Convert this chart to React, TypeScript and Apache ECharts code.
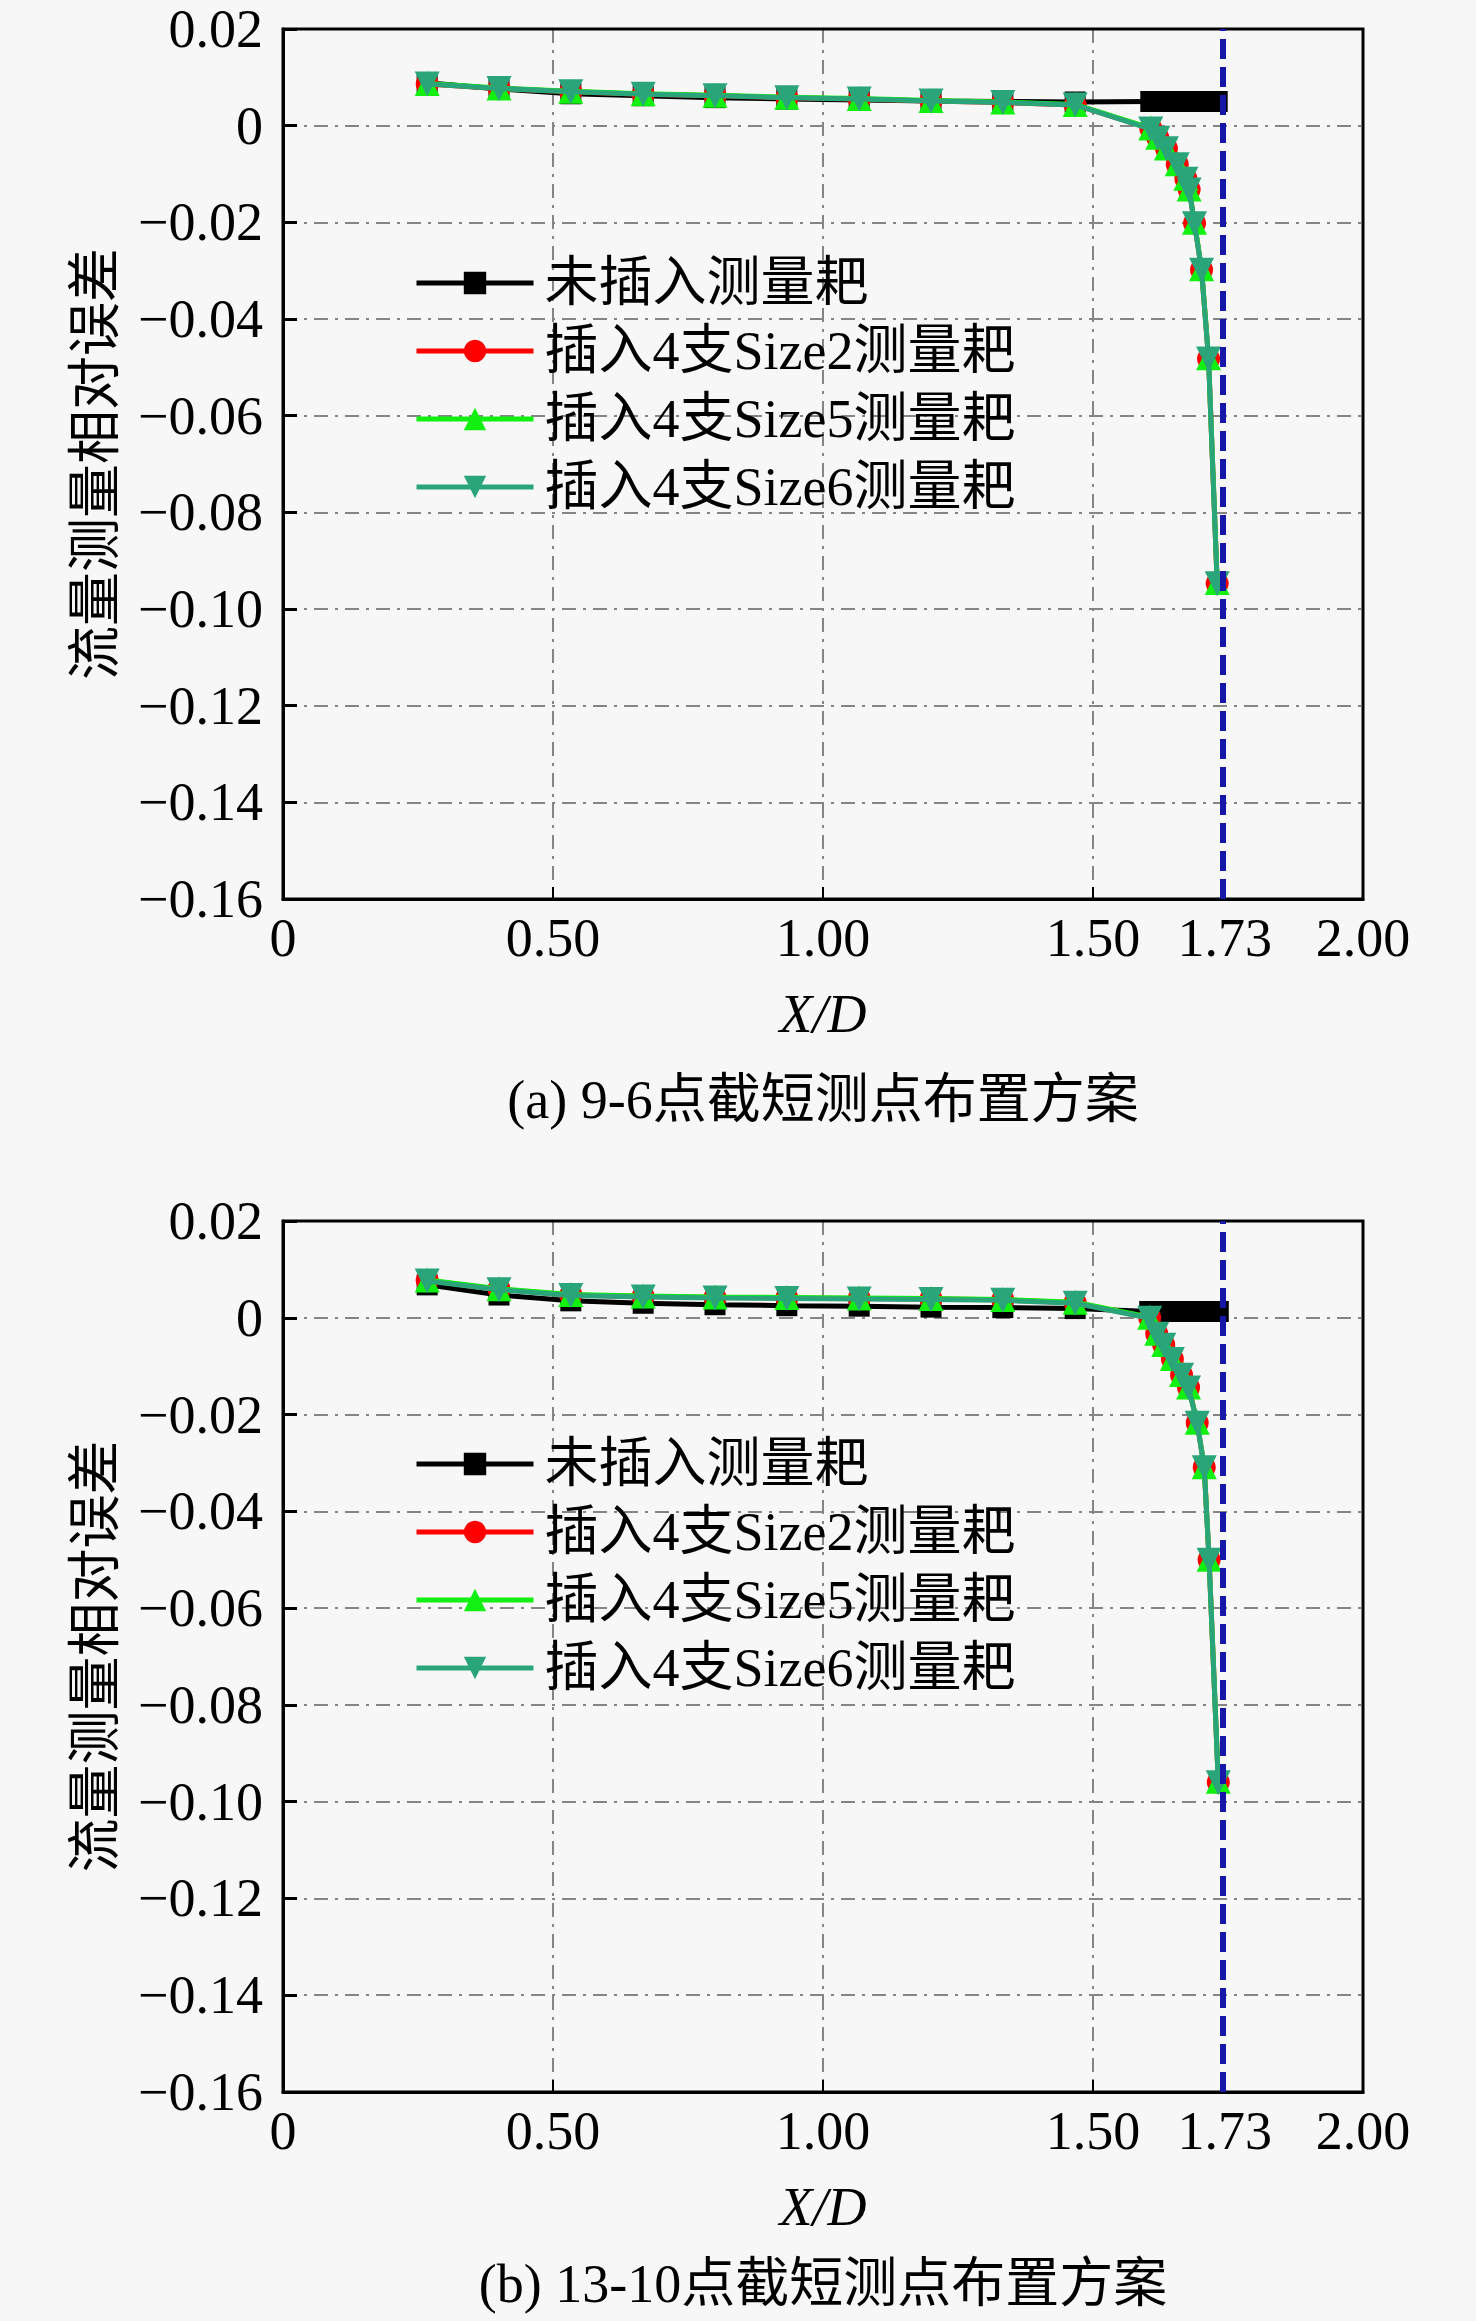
import React, { useEffect, useRef } from "react";
import * as echarts from "echarts";

const FONT = "'Liberation Serif', 'Noto Sans CJK SC', serif";

// ---- series names ----
const NAMES = ["未插入测量耙", "插入4支Size2测量耙", "插入4支Size5测量耙", "插入4支Size6测量耙"];
const COLORS = ["#000000", "#ff0000", "#11f011", "#2aa57a"];
const SYMBOLS = ["rect", "circle", "triangle", "triangle"];
const SYMBOL_ROTATE = [0, 0, 0, 180];
const SYMBOL_SIZES = [21, 23, 25, 25];

// ---- x positions (X/D) ----
const X_MAIN = [0.267, 0.4, 0.533, 0.667, 0.8, 0.933, 1.067, 1.2, 1.333, 1.467];
const X_TAIL_A = [1.607, 1.62, 1.636, 1.656, 1.672, 1.678, 1.688, 1.701, 1.714, 1.73];
const X_TAIL_B = [1.605, 1.618, 1.631, 1.647, 1.664, 1.677, 1.693, 1.706, 1.715, 1.732];

// ---- (a) 9-6 ----
const A_NONE_MAIN = [0.0089, 0.0076, 0.0066, 0.0062, 0.0058, 0.0055, 0.0053, 0.0051, 0.005, 0.0049];
const A_NONE_TAIL = [0.005, 0.005, 0.005, 0.005, 0.005, 0.005, 0.005, 0.005, 0.005, 0.005];
const A_S2_MAIN = [0.0086, 0.0077, 0.007, 0.0065, 0.0062, 0.0058, 0.0055, 0.0051, 0.0048, 0.0043];
const A_S2_TAIL = [-0.0006, -0.0025, -0.0047, -0.008, -0.011, -0.0132, -0.0202, -0.0298, -0.0482, -0.0947];
const A_S5_MAIN = [0.0087, 0.0078, 0.0071, 0.0066, 0.0063, 0.0059, 0.0056, 0.0052, 0.0049, 0.0044];
const A_S5_TAIL = [-0.0005, -0.0024, -0.0046, -0.0079, -0.0109, -0.0131, -0.02, -0.0296, -0.048, -0.0945];
const A_S6_MAIN = [0.0086, 0.0077, 0.007, 0.0065, 0.0062, 0.0058, 0.0055, 0.0051, 0.0048, 0.0043];
const A_S6_TAIL = [-0.0007, -0.0026, -0.0048, -0.0081, -0.0111, -0.0133, -0.0203, -0.0299, -0.0483, -0.0948];

// ---- (b) 13-10 ----
const B_NONE_MAIN = [0.0068, 0.0047, 0.0035, 0.003, 0.0027, 0.0025, 0.0024, 0.0022, 0.0021, 0.0019];
const B_NONE_TAIL = [0.0013, 0.0013, 0.0013, 0.0013, 0.0013, 0.0013, 0.0013, 0.0013, 0.0013, 0.0013];
const B_S2_MAIN = [0.0077, 0.0059, 0.0047, 0.0044, 0.0042, 0.0041, 0.004, 0.0039, 0.0037, 0.0031];
const B_S2_TAIL = [0, -0.0033, -0.0056, -0.0085, -0.0118, -0.0144, -0.0217, -0.0309, -0.05, -0.096];
const B_S5_MAIN = [0.0078, 0.006, 0.0048, 0.0045, 0.0043, 0.0042, 0.0041, 0.004, 0.0038, 0.0032];
const B_S5_TAIL = [0.0001, -0.0032, -0.0055, -0.0084, -0.0117, -0.0143, -0.0216, -0.0308, -0.0499, -0.0958];
const B_S6_MAIN = [0.0076, 0.0058, 0.0046, 0.0043, 0.0041, 0.004, 0.0039, 0.0038, 0.0036, 0.003];
const B_S6_TAIL = [-0.0001, -0.0034, -0.0057, -0.0086, -0.0119, -0.0145, -0.0218, -0.031, -0.0501, -0.0961];

// ---- axes ----
const X_TICK_VALUES = [0, 0.5, 1, 1.5, 1.744, 2];
const X_TICK_LABELS = ["0", "0.50", "1.00", "1.50", "1.73", "2.00"];
const MARK_X = 1.744;
const CAPTIONS = ["(a) 9-6点截短测点布置方案", "(b) 13-10点截短测点布置方案"];
const Y_TITLE = "流量测量相对误差";
const X_TITLE = "X/D";

const GRIDS = [
  { top: 29, height: 870 },
  { top: 1221, height: 871 },
];
const GRID_LEFT = 283;
const GRID_WIDTH = 1080;

const pairs = (xs: number[], ys: number[]) => xs.map((x, i) => [x, ys[i]]);

const DATA = [
  [
    pairs([...X_MAIN, ...X_TAIL_A], [...A_NONE_MAIN, ...A_NONE_TAIL]),
    pairs([...X_MAIN, ...X_TAIL_A], [...A_S2_MAIN, ...A_S2_TAIL]),
    pairs([...X_MAIN, ...X_TAIL_A], [...A_S5_MAIN, ...A_S5_TAIL]),
    pairs([...X_MAIN, ...X_TAIL_A], [...A_S6_MAIN, ...A_S6_TAIL]),
  ],
  [
    pairs([...X_MAIN, ...X_TAIL_B], [...B_NONE_MAIN, ...B_NONE_TAIL]),
    pairs([...X_MAIN, ...X_TAIL_B], [...B_S2_MAIN, ...B_S2_TAIL]),
    pairs([...X_MAIN, ...X_TAIL_B], [...B_S5_MAIN, ...B_S5_TAIL]),
    pairs([...X_MAIN, ...X_TAIL_B], [...B_S6_MAIN, ...B_S6_TAIL]),
  ],
];

const GRIDLINE = { color: "#858585", width: 2, type: [14, 7, 3, 7] as number[] };

function xLabel(v: number) {
  let best = 0;
  for (let i = 0; i < X_TICK_VALUES.length; i++) {
    if (Math.abs(X_TICK_VALUES[i] - v) < Math.abs(X_TICK_VALUES[best] - v)) best = i;
  }
  return X_TICK_LABELS[best];
}

function yLabel(v: number) {
  if (Math.abs(v) < 1e-9) return "0";
  return (v < 0 ? "\u2212" : "") + Math.abs(v).toFixed(2);
}

function buildOption() {
  const grid = GRIDS.map((g) => ({
    left: GRID_LEFT,
    top: g.top,
    width: GRID_WIDTH,
    height: g.height,
    show: true,
    borderColor: "#000",
    borderWidth: 3,
    backgroundColor: "transparent",
    z: 3,
  }));
  const xAxis = GRIDS.map((_, i) => ({
    type: "value",
    gridIndex: i,
    min: 0,
    max: 2,
    interval: 0.5,
    name: X_TITLE,
    nameLocation: "middle",
    nameGap: 88,
    nameTextStyle: { fontFamily: FONT, fontSize: 54, fontStyle: "italic", color: "#000" },
    axisLine: { show: true, onZero: false, lineStyle: { color: "#000", width: 3 } },
    axisTick: { show: true, inside: true, length: 12, lineStyle: { color: "#000", width: 2 } },
    axisLabel: {
      customValues: X_TICK_VALUES,
      formatter: (v: number) => xLabel(v),
      fontFamily: FONT,
      fontSize: 54,
      color: "#000",
      margin: 12,
      lineHeight: 54,
    },
    splitLine: { show: true, showMinLine: false, showMaxLine: false, lineStyle: GRIDLINE },
  }));
  const yAxis = GRIDS.map((_, i) => ({
    type: "value",
    gridIndex: i,
    min: -0.16,
    max: 0.02,
    interval: 0.02,
    name: Y_TITLE,
    nameLocation: "middle",
    nameGap: 160,
    nameRotate: 90,
    nameTextStyle: { fontFamily: FONT, fontSize: 54, color: "#000" },
    axisLine: { show: true, onZero: false, lineStyle: { color: "#000", width: 3 } },
    axisTick: { show: true, inside: true, length: 14, lineStyle: { color: "#000", width: 3 } },
    axisLabel: {
      formatter: (v: number) => yLabel(v),
      fontFamily: FONT,
      fontSize: 54,
      color: "#000",
      margin: 20,
      lineHeight: 44,
    },
    splitLine: { show: true, showMinLine: false, showMaxLine: false, lineStyle: GRIDLINE },
  }));
  const series: any[] = [];
  GRIDS.forEach((_, gi) => {
    NAMES.forEach((name, si) => {
      const s: any = {
        type: "line",
        name,
        xAxisIndex: gi,
        yAxisIndex: gi,
        data: DATA[gi][si],
        symbol: SYMBOLS[si],
        symbolRotate: SYMBOL_ROTATE[si],
        symbolSize: SYMBOL_SIZES[si],
        showAllSymbol: true,
        color: COLORS[si],
        lineStyle: { color: COLORS[si], width: 5 },
        itemStyle: { color: COLORS[si] },
        z: 4 + si,
      };
      if (si === 3) {
        s.markLine = {
          silent: true,
          symbol: ["none", "none"],
          label: { show: false },
          lineStyle: { color: "#1616a8", width: 6, type: [20, 8] },
          data: [{ xAxis: MARK_X }],
          z: 10,
        };
      }
      series.push(s);
    });
  });
  const legend = [
    { top: 247 },
    { top: 1428 },
  ].map((l) => ({
    show: true,
    orient: "vertical",
    left: 409,
    top: l.top,
    itemWidth: 117,
    itemHeight: 28,
    itemGap: 6,
    data: NAMES,
    lineStyle: { width: 5 },
    textStyle: { fontFamily: FONT, fontSize: 54, color: "#000", lineHeight: 62, padding: [0, 0, 0, 6] },
    backgroundColor: "transparent",
  }));
  const graphic = CAPTIONS.map((t, i) => ({
    type: "text",
    x: GRID_LEFT + GRID_WIDTH / 2,
    y: i === 0 ? 1100 : 2284,
    style: {
      text: t,
      fontFamily: FONT,
      fontSize: 54,
      fill: "#000",
      align: "center",
      verticalAlign: "middle",
    },
  }));
  return {
    animation: false,
    backgroundColor: "#f7f7f7",
    grid,
    xAxis,
    yAxis,
    legend,
    series,
    graphic,
  };
}

export default function App() {
  const ref = useRef<HTMLDivElement>(null);
  useEffect(() => {
    const chart = echarts.init(ref.current!, null, { renderer: "svg" });
    chart.setOption(buildOption() as any);
    return () => chart.dispose();
  }, []);
  return (
    <div
      ref={ref}
      style={{ position: "absolute", left: 0, top: 0, width: 1476, height: 2321 }}
    />
  );
}
